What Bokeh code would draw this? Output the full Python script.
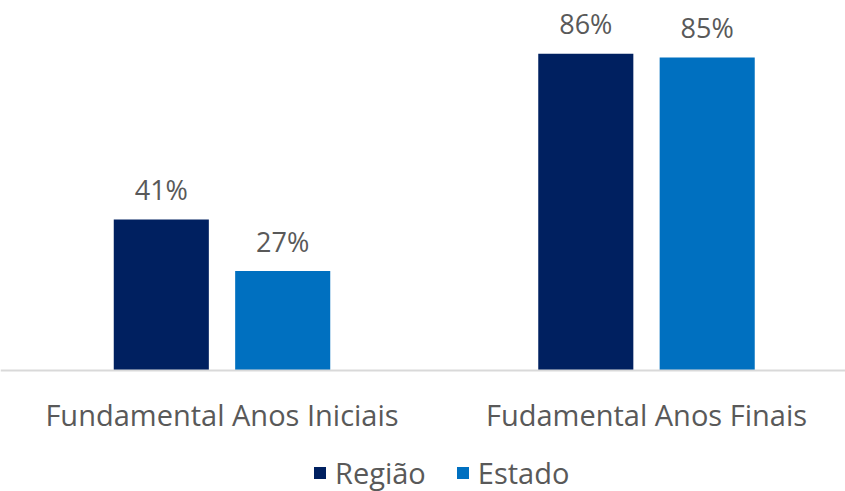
from bokeh.plotting import figure
from bokeh.models import ColumnDataSource, Range1d, Legend, LegendItem, Span
from bokeh.core.properties import value
from bokeh.embed import file_html
from bokeh.resources import INLINE

categories = ["Fundamental Anos Iniciais", "Fudamental Anos Finais"]
series = ["Região", "Estado"]
regiao = [41, 86]
estado = [27, 85]
colors = ["#002060", "#0070C0"]

FONT = "Open Sans"
TXT = "#595959"

idx = list(range(len(categories)))
p = figure(width=845, height=491, output_backend="svg", toolbar_location=None,
           x_range=Range1d(-0.5218, 1.4688), y_range=Range1d(-32.9, 100.5),
           min_border_left=0, min_border_right=0, min_border_top=0, min_border_bottom=0)
p.outline_line_color = None
p.grid.grid_line_color = None
p.xaxis.visible = False
p.yaxis.visible = False

p.add_layout(Span(location=0, dimension="width", line_color="#d9d9d9", line_width=2))

renderers = []
offs = [-0.143, 0.143]
for s, vals, c, o in zip(series, [regiao, estado], colors, offs):
    src = ColumnDataSource(dict(x=[i + o for i in idx], top=vals,
                                lab=[f"{v}%" for v in vals]))
    r = p.vbar(x="x", top="top", width=0.224, source=src, fill_color=c, line_color=None)
    renderers.append(r)
    p.text(x="x", y="top", text="lab", source=src, text_align="center",
           text_baseline="alphabetic", y_offset=-30, text_font=value(FONT),
           text_font_size="27px", text_color=TXT)

csrc = ColumnDataSource(dict(x=idx, y=[0] * len(idx), t=categories))
p.text(x="x", y="y", text="t", source=csrc, text_align="center",
       text_baseline="alphabetic", y_offset=44, text_font=value(FONT),
       text_font_size="29px", text_color=TXT)

legend = Legend(items=[LegendItem(label=s, renderers=[r]) for s, r in zip(series, renderers)],
                orientation="horizontal", location=(312, -1),
                label_text_font=FONT, label_text_font_size="29px", label_text_color=TXT,
                glyph_width=15, glyph_height=15, label_standoff=8, spacing=29,
                border_line_color=None, background_fill_alpha=0, margin=0, padding=0)
p.add_layout(legend)

open("out.html", "w").write(file_html(p, INLINE))
